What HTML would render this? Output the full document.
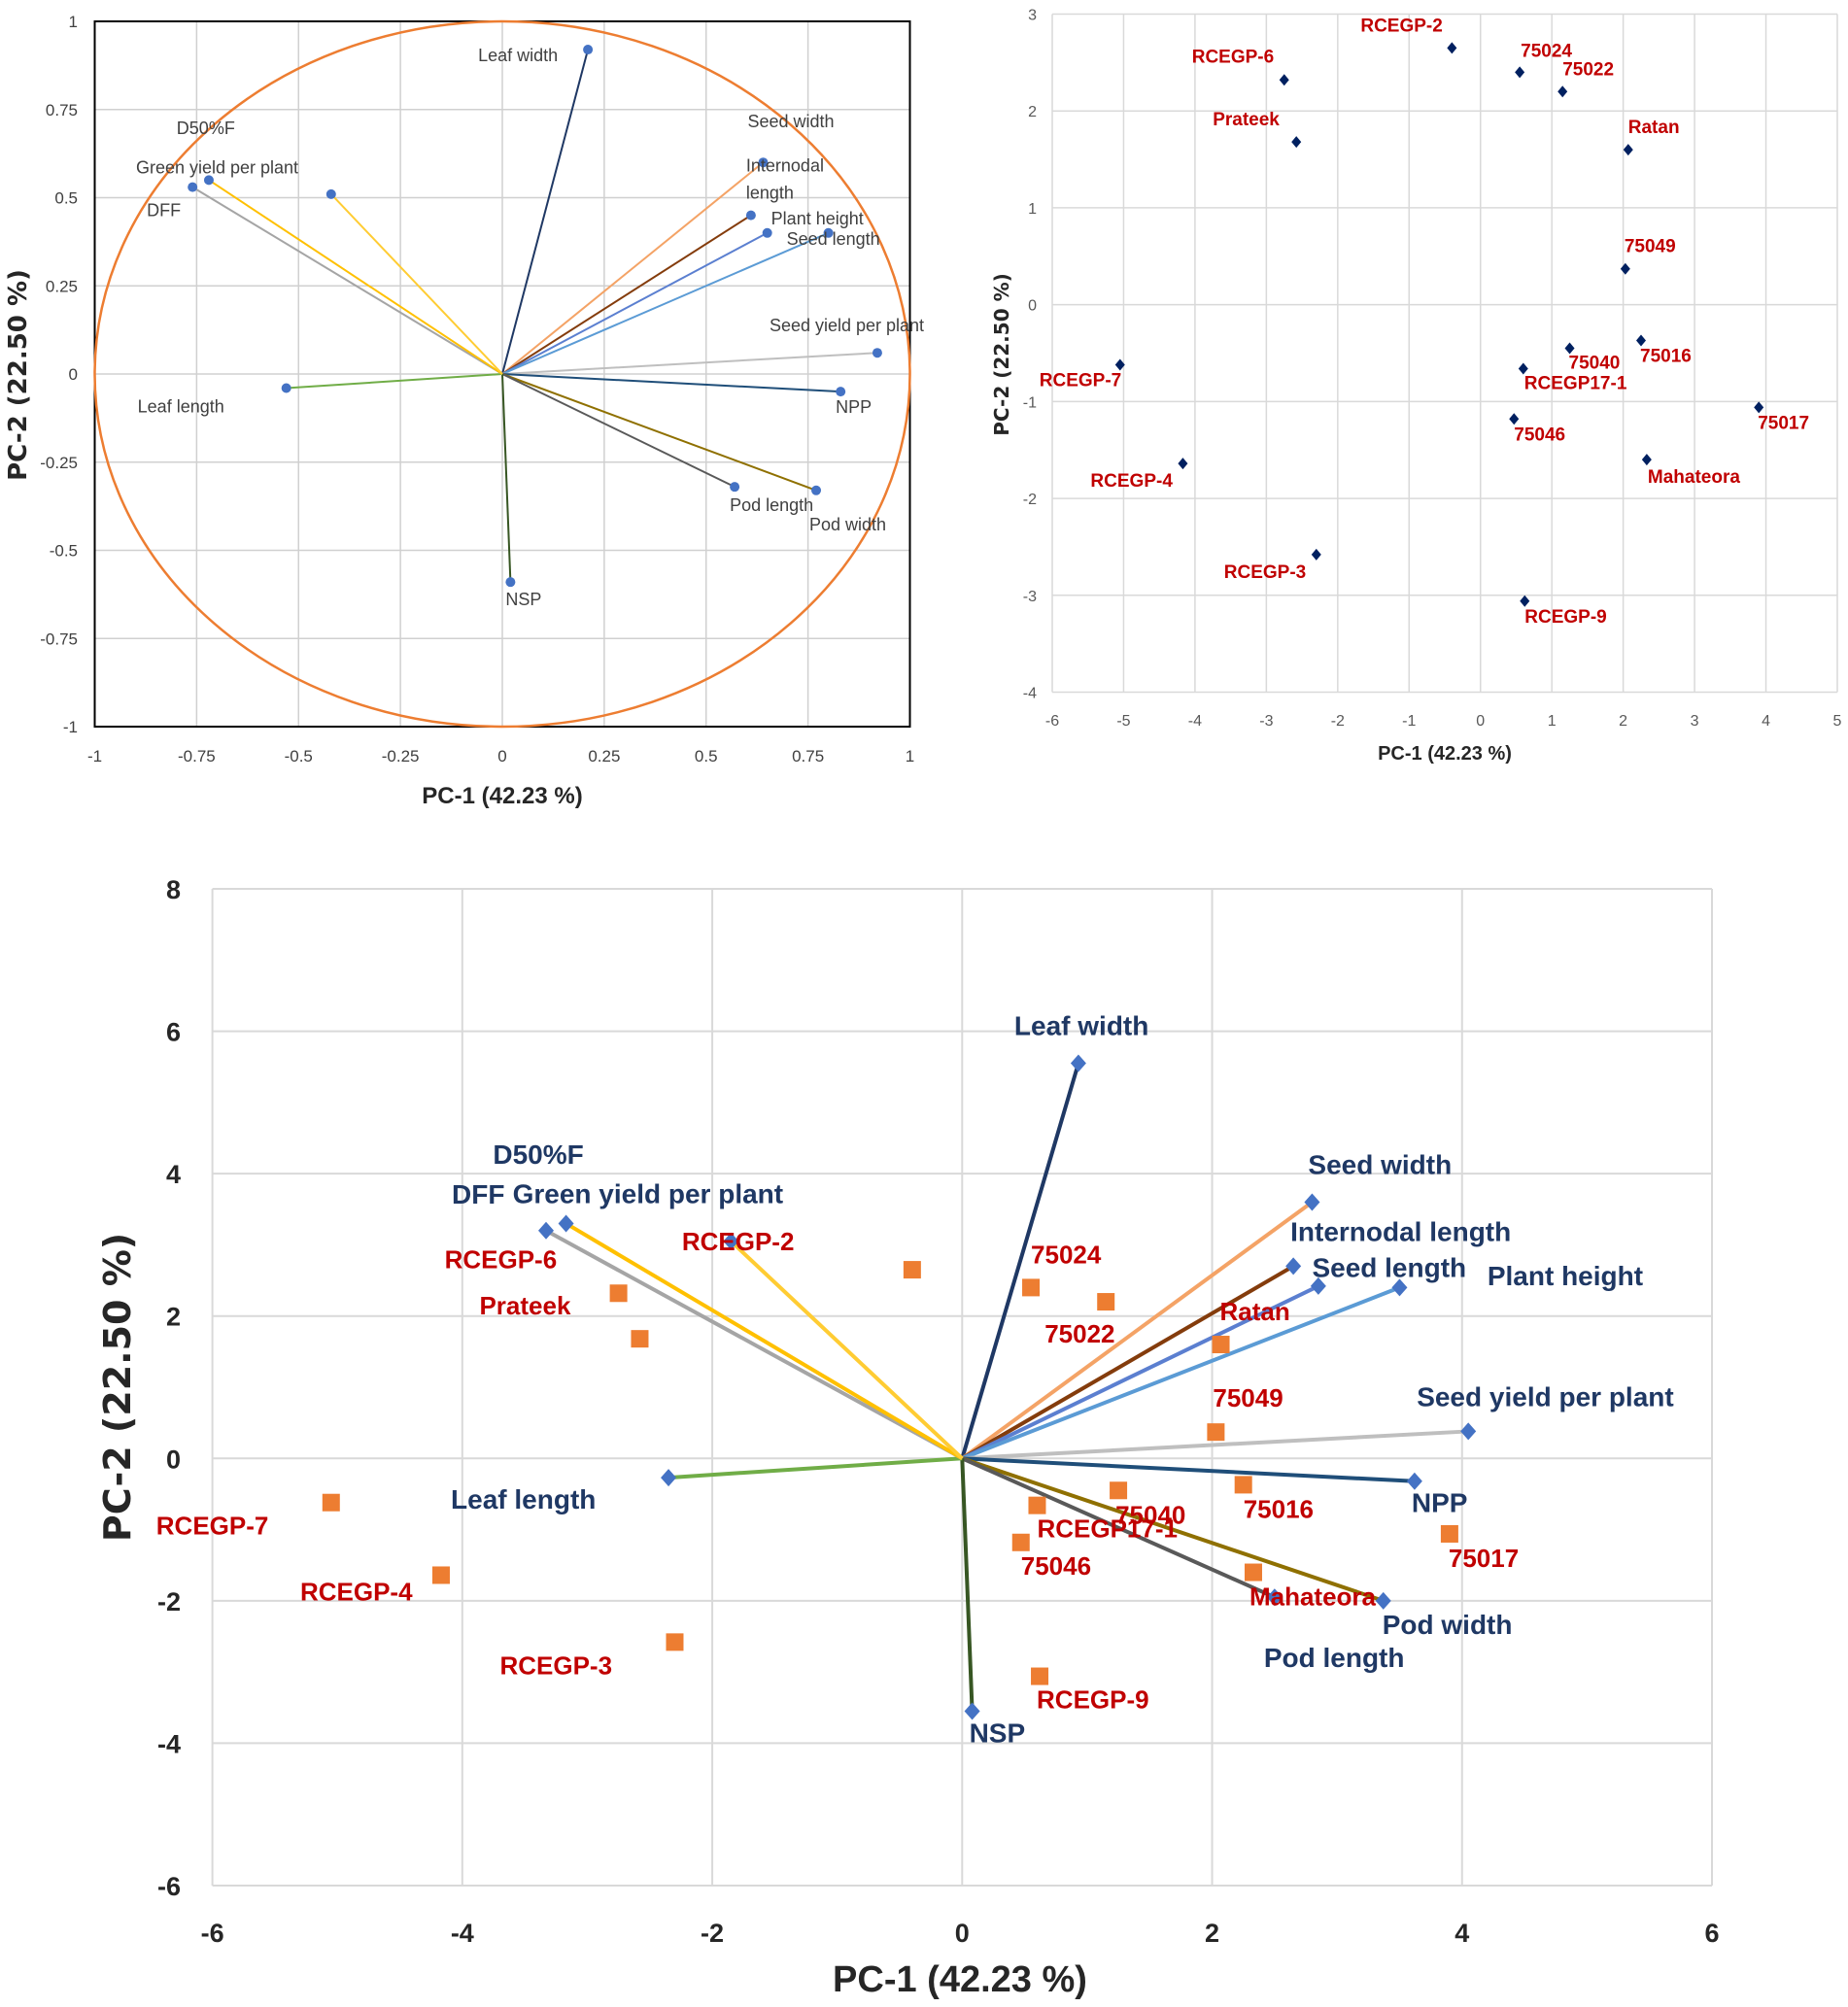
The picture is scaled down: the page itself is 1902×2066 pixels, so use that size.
<!DOCTYPE html>
<html><head><meta charset="utf-8"><style>
html,body{margin:0;padding:0;background:#fff}
svg{display:block}
text{font-family:"Liberation Sans Narrow","Liberation Sans",sans-serif}
</style></head>
<body>
<svg id="s" width="1902" height="2066" viewBox="0 0 1902 2066" xmlns="http://www.w3.org/2000/svg"></svg>
<script>
// ---------- DATA ----------
const traitNames = ["Leaf width","Seed width","Internodal length","Plant height","Seed length","Seed yield per plant","NPP","Pod width","Pod length","NSP","Leaf length","DFF","Green yield per plant","D50%F"];
const loadPC1 = [0.21,0.64,0.61,0.65,0.80,0.92,0.83,0.77,0.57,0.02,-0.53,-0.76,-0.72,-0.42];
const loadPC2 = [0.92,0.60,0.45,0.40,0.40,0.06,-0.05,-0.33,-0.32,-0.59,-0.04,0.53,0.55,0.51];
const bipPC1 = [0.93,2.80,2.65,2.85,3.50,4.05,3.62,3.37,2.50,0.08,-2.35,-3.33,-3.17,-1.85];
const bipPC2 = [5.55,3.60,2.70,2.42,2.40,0.38,-0.32,-2.00,-1.95,-3.55,-0.27,3.20,3.30,3.05];
const genoNames = ["RCEGP-2","75024","75022","RCEGP-6","Prateek","Ratan","75049","75040","75016","RCEGP17-1","75046","75017","Mahateora","RCEGP-7","RCEGP-4","RCEGP-3","RCEGP-9"];
const scorePC1 = [-0.40,0.55,1.15,-2.75,-2.58,2.07,2.03,1.25,2.25,0.60,0.47,3.90,2.33,-5.05,-4.17,-2.30,0.62];
const scorePC2 = [2.65,2.40,2.20,2.32,1.68,1.60,0.37,-0.45,-0.37,-0.66,-1.18,-1.06,-1.60,-0.62,-1.64,-2.58,-3.06];
const ticks1 = [-1,-0.75,-0.5,-0.25,0,0.25,0.5,0.75,1];
const ticks2x = [-6,-5,-4,-3,-2,-1,0,1,2,3,4,5];
const ticks2y = [-4,-3,-2,-1,0,1,2,3];
const ticks3x = [-6,-4,-2,0,2,4,6];
const ticks3y = [-6,-4,-2,0,2,4,6,8];

// ---------- STYLE (not data) ----------
const vecColors = ["#1f3864","#f4a366","#843c0c","#5b7fd0","#5b9bd5","#bfbfbf","#1f4e79","#8f7000","#595959","#375623","#70ad47","#a5a5a5","#ffc000","#ffcc33"];
const lab1 = [[-113,12],[-16,-36],[-5,-45],[4,-9],[-43,12],[-111,-22],[-5,22],[-7,41],[-5,25],[-5,24],[-153,25],[-47,30],[-75,-7],[-159,-62]];
const lab3 = [[-66,-29],[-4,-29],[-3,-26],[174,-1],[-90,-11],[-53,-26],[-3,32],[-1,34],[-11,72],[-3,32],[-224,32],[-97,-28],[-55,-21],[-245,-80]];
const glab2 = [[-94,-17],[1,-16],[0,-17],[-95,-18],[-86,-17],[0,-17],[-1,-17],[-1,21],[-1,22],[1,21],[0,22],[-1,22],[1,24],[-83,22],[-95,24],[-95,24],[0,22]];
const glab3 = [[-237,-20],[0,-25],[-63,42],[-179,-26],[-165,-25],[-1,-25],[-3,-26],[-3,34],[0,34],[0,33],[0,33],[-1,34],[-4,34],[-180,33],[-145,26],[-180,33],[-3,33]];

const svg = document.getElementById('s');
const NS = "http://www.w3.org/2000/svg";
function mk(tag, a, parent){ const e=document.createElementNS(NS,tag); for(const k in a) e.setAttribute(k,a[k]); (parent||svg).appendChild(e); return e; }
function txt(s,a,parent){ const e=mk('text',a,parent); e.textContent=s; return e; }
function scale(d0,d1,r0,r1){ return v => r0+(v-d0)/(d1-d0)*(r1-r0); }

// ===== Chart 1: loading circle =====
(function(){
  const g=mk('g',{});
  
  
  const X=scale(-1,1,97.5,936.5), Y=scale(-1,1,748,22);
  ticks1.forEach(t=>{
    const l1=mk('line',{x1:X(t),x2:X(t),y1:22,y2:748,stroke:'#d0d0d0','stroke-width':1.5},g);
    
    
    const l2=mk('line',{x1:97.5,x2:936.5,y1:Y(t),y2:Y(t),stroke:'#d0d0d0','stroke-width':1.5},g);
    
    
    const tx=txt(String(t),{x:X(t),y:784,'text-anchor':'middle','font-size':17,fill:'#404040'},g);
    
    
    const ty=txt(String(t),{x:80,y:Y(t)+6,'text-anchor':'end','font-size':17,fill:'#404040'},g);
    
    
  });
  const b=mk('rect',{x:97.5,y:22,width:839,height:726,fill:'none',stroke:'#000','stroke-width':2},g);
  
  
  const c=mk('ellipse',{cx:X(0),cy:Y(0),rx:X(1)-X(0),ry:Y(-1)-Y(0),fill:'none',stroke:'#ed7d31','stroke-width':2.5},g);
  
  
  traitNames.forEach((n,i)=>{
    const x=X(loadPC1[i]), y=Y(loadPC2[i]);
    const l=mk('line',{x1:X(0),y1:Y(0),x2:x,y2:y,stroke:vecColors[i],'stroke-width':2},g);
    
    
    const p=mk('circle',{cx:x,cy:y,r:5,fill:'#4472c4'},g);
    
    
    if(n==="Internodal length"){
      const t1=txt("Internodal",{x:x+lab1[i][0],y:y+lab1[i][1],'font-size':18,fill:'#404040'},g);
      
      
      const t2=txt("length",{x:x+lab1[i][0],y:y+lab1[i][1]+28,'font-size':18,fill:'#404040'},g);
      
      
    } else {
      const t=txt(n,{x:x+lab1[i][0],y:y+lab1[i][1],'font-size':18,fill:'#404040'},g);
      
      
    }
  });
  const xt=txt("PC-1 (42.23 %)",{x:517,y:827,'text-anchor':'middle','font-size':24,'font-weight':'bold',fill:'#262626'},g);
  
  
  const yt=txt("PC-2 (22.50 %)",{x:0,y:0,'text-anchor':'middle','font-size':26,'font-weight':'bold',fill:'#262626',transform:'translate(27,386) rotate(-90)',style:'font-family:"DejaVu Sans",sans-serif'},g);
  
  
})();

// ===== Chart 2: score plot =====
(function(){
  const g=mk('g',{});
  
  
  const X=scale(-6,5,1083,1891), Y=scale(-4,3,712.5,14.5);
  ticks2x.forEach(t=>{
    const l=mk('line',{x1:X(t),x2:X(t),y1:14.5,y2:712.5,stroke:'#d9d9d9','stroke-width':1.5},g);
    
    
    const tx=txt(String(t),{x:X(t),y:747,'text-anchor':'middle','font-size':16,fill:'#595959'},g);
    
    
  });
  ticks2y.forEach(t=>{
    const l=mk('line',{x1:1083,x2:1891,y1:Y(t),y2:Y(t),stroke:'#d9d9d9','stroke-width':1.5},g);
    
    
    const ty=txt(String(t),{x:1067,y:Y(t)+6,'text-anchor':'end','font-size':16,fill:'#595959'},g);
    
    
  });
  genoNames.forEach((n,i)=>{
    const x=X(scorePC1[i]), y=Y(scorePC2[i]);
    const p=mk('path',{d:`M${x},${y-6}L${x+5},${y}L${x},${y+6}L${x-5},${y}Z`,fill:'#002060'},g);
    
    
    const t=txt(n,{x:x+glab2[i][0],y:y+glab2[i][1],'font-size':19,'font-weight':'bold',fill:'#c00000'},g);
    
    
  });
  const xt=txt("PC-1 (42.23 %)",{x:1487,y:782,'text-anchor':'middle','font-size':20,'font-weight':'bold',fill:'#262626'},g);
  
  
  const yt=txt("PC-2 (22.50 %)",{x:0,y:0,'text-anchor':'middle','font-size':20,'font-weight':'bold',fill:'#262626',transform:'translate(1038,365) rotate(-90)',style:'font-family:"DejaVu Sans",sans-serif'},g);
  
  
})();

// ===== Chart 3: biplot =====
(function(){
  const g=mk('g',{});
  
  
  const X=scale(-6,6,218.6,1762), Y=scale(-6,8,1941,915);
  ticks3x.forEach(t=>{
    const l=mk('line',{x1:X(t),x2:X(t),y1:915,y2:1941,stroke:'#d9d9d9','stroke-width':2},g);
    
    
    const tx=txt(String(t),{x:X(t),y:1999,'text-anchor':'middle','font-size':27,'font-weight':'bold',fill:'#262626'},g);
    
    
  });
  ticks3y.forEach(t=>{
    const l=mk('line',{x1:218.6,x2:1762,y1:Y(t),y2:Y(t),stroke:'#d9d9d9','stroke-width':2},g);
    
    
    const ty=txt(String(t),{x:186,y:Y(t)+10,'text-anchor':'end','font-size':27,'font-weight':'bold',fill:'#262626'},g);
    
    
  });
  traitNames.forEach((n,i)=>{
    const l=mk('line',{x1:X(0),y1:Y(0),x2:X(bipPC1[i]),y2:Y(bipPC2[i]),stroke:vecColors[i],'stroke-width':4},g);
    
    
  });
  genoNames.forEach((n,i)=>{
    const x=X(scorePC1[i]), y=Y(scorePC2[i]);
    const p=mk('rect',{x:x-9,y:y-9,width:18,height:18,fill:'#ed7d31'},g);
    
    
  });
  traitNames.forEach((n,i)=>{
    const x=X(bipPC1[i]), y=Y(bipPC2[i]);
    const p=mk('path',{d:`M${x},${y-9}L${x+8},${y}L${x},${y+9}L${x-8},${y}Z`,fill:'#4472c4'},g);
    
    
  });
  genoNames.forEach((n,i)=>{
    const x=X(scorePC1[i]), y=Y(scorePC2[i]);
    const t=txt(n,{x:x+glab3[i][0],y:y+glab3[i][1],'font-size':26,'font-weight':'bold',fill:'#c00000'},g);
    
    
  });
  traitNames.forEach((n,i)=>{
    const x=X(bipPC1[i]), y=Y(bipPC2[i]);
    const t=txt(n,{x:x+lab3[i][0],y:y+lab3[i][1],'font-size':28,'font-weight':'bold',fill:'#1f3864'},g);
    
    
  });
  const xt=txt("PC-1 (42.23 %)",{x:988,y:2050,'text-anchor':'middle','font-size':38,'font-weight':'bold',fill:'#262626'},g);
  
  
  const yt=txt("PC-2 (22.50 %)",{x:0,y:0,'text-anchor':'middle','font-size':38,'font-weight':'bold',fill:'#262626',transform:'translate(134,1428) rotate(-90)',style:'font-family:"DejaVu Sans",sans-serif'},g);
  
  
})();
</script>
</body></html>
